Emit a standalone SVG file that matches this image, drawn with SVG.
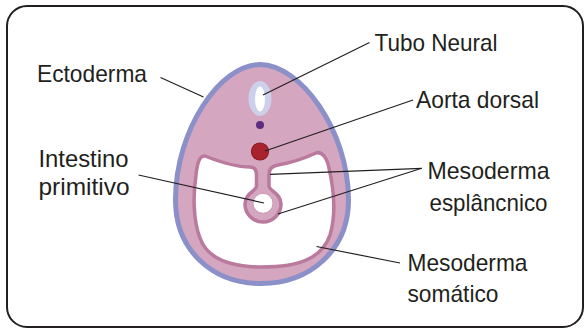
<svg xmlns="http://www.w3.org/2000/svg" width="585" height="328" viewBox="0 0 585 328">
  <style>
    .lbl { font-family: "Liberation Sans", Arial, sans-serif; font-size: 24px; fill: #231f20; }
    .lead { fill: none; stroke: #231f20; stroke-width: 1.2; }
  </style>
  <rect x="7" y="6" width="576" height="321" rx="20" ry="20" fill="#ffffff" stroke="#231f20" stroke-width="2"/>

  <!-- embryo cross-section -->
  <g id="embryo">
    <!-- body wall / ectoderm -->
    <path id="ectoderma" d="M260,64.5 C300,64.5 348.5,130 348.5,200 C348.5,250 310,283.5 261,283.5 C212,283.5 175.5,250 175.5,200 C175.5,130 220,64.5 260,64.5 Z" fill="#d4a6bf" stroke="#8b90c9" stroke-width="5"/>
    <!-- coelom with splanchnic and somatic mesoderm lining -->
    <path id="celoma" d="M196,175 C197,165 199,155 205,156 C215,160 235,167 250,167 C255,167 256.5,170 256.5,175 L256.5,186 C256.5,191 245,193 245,204 A18,18 0 0 0 281,204 C281,193 269,191 269,186 L269,174 C269,169 272,166 278,165 C290,163 305,158 316,153 C322,151 327,158 329,168 C334,190 336,215 330,235 C322,258 300,267 262,267 C228,267 207,258 200,238 C193,220 193,195 196,175 Z" fill="#ffffff" stroke="#ba7a9d" stroke-width="3.5" stroke-linejoin="round"/>
    <!-- gut lumen -->
    <circle id="lumen" cx="263" cy="203.3" r="10" fill="#ffffff" stroke="#c99ab3" stroke-width="1"/>
    <!-- neural tube -->
    <ellipse id="tubo-neural" cx="260" cy="98.5" rx="11.5" ry="17.5" fill="#ccd0ea"/>
    <ellipse cx="260" cy="99" rx="5" ry="12.5" fill="#ffffff"/>
    <!-- notochord -->
    <circle id="notocorda" cx="260" cy="125" r="4" fill="#5c2d7e"/>
    <!-- dorsal aorta -->
    <circle id="aorta" cx="260" cy="151.5" r="8.5" fill="#a8232e" stroke="#8f1a24" stroke-width="1.2"/>
  </g>

  <!-- leader lines -->
  <g id="connectors" class="lead">
    <line x1="160.5" y1="77.5" x2="203.5" y2="97"/>
    <line x1="369.5" y1="42.5" x2="263" y2="95"/>
    <line x1="413" y1="100" x2="265" y2="151"/>
    <line x1="421.7" y1="168.3" x2="270" y2="174.3"/>
    <line x1="421.7" y1="168.3" x2="278" y2="214"/>
    <line x1="138.5" y1="175" x2="264" y2="203"/>
    <line x1="400" y1="263" x2="316.5" y2="246.5"/>
  </g>

  <!-- labels -->
  <g id="lbl-ectoderma"><text class="lbl" x="37" y="82" textLength="110" lengthAdjust="spacingAndGlyphs">Ectoderma</text></g>
  <g id="lbl-tubo"><text class="lbl" x="374.5" y="51" textLength="123" lengthAdjust="spacingAndGlyphs">Tubo Neural</text></g>
  <g id="lbl-aorta"><text class="lbl" x="416" y="108" textLength="123" lengthAdjust="spacingAndGlyphs">Aorta dorsal</text></g>
  <g id="lbl-intestino">
    <text class="lbl" x="38.5" y="166.5" textLength="90" lengthAdjust="spacingAndGlyphs">Intestino</text>
    <text class="lbl" x="38.5" y="195" textLength="91" lengthAdjust="spacingAndGlyphs">primitivo</text>
  </g>
  <g id="lbl-esplancnico">
    <text class="lbl" x="427.5" y="178.5" textLength="122" lengthAdjust="spacingAndGlyphs">Mesoderma</text>
    <text class="lbl" x="429.5" y="211" textLength="118" lengthAdjust="spacingAndGlyphs">esplâncnico</text>
  </g>
  <g id="lbl-somatico">
    <text class="lbl" x="407.5" y="271" textLength="120" lengthAdjust="spacingAndGlyphs">Mesoderma</text>
    <text class="lbl" x="407.5" y="302" textLength="91" lengthAdjust="spacingAndGlyphs">somático</text>
  </g>
</svg>
